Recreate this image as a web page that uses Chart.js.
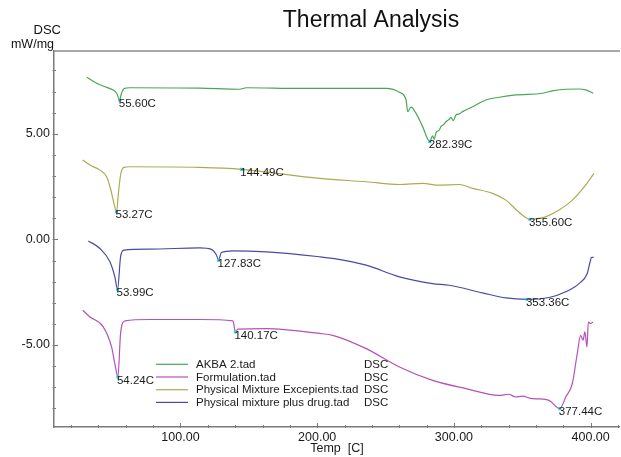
<!DOCTYPE html>
<html><head><meta charset="utf-8">
<script src="https://cdn.jsdelivr.net/npm/chart.js@4.4.1/dist/chart.umd.min.js"></script>
<style>html,body{margin:0;padding:0;background:#fff;}#wrap{width:621px;height:457px;position:relative;}</style>
</head><body><div id="wrap"><canvas id="c" width="621" height="457"></canvas></div>
<script>
const seriesNames = ['AKBA 2.tad', 'Formulation.tad', 'Physical Mixture Excepients.tad', 'Physical mixture plus drug.tad'];
const seriesColors = ['#4aa656', '#b452b8', '#abab55', '#4a4aa2'];

const akbaTemp = [31.4, 38.7, 46.0, 50.8, 53.3, 55.6, 56.5, 59, 63, 114, 143.3, 148.2, 187, 250.6, 260.1, 265, 266.2, 268.6, 272.3, 277.1, 282.39, 284.4, 285.6, 286.9, 289.3, 290.5, 292.2, 294.2, 296.6, 297.8, 299.5, 301.5, 303.9, 306.3, 313.6, 323.4, 333.1, 345.3, 364.7, 372.0, 381.8, 391.5, 396.3, 401.9];
const akbaDsc  = [7.68, 7.39, 7.2, 7.07, 6.92, 6.6, 6.84, 7.15, 7.18, 7.16, 7.11, 7.18, 7.15, 7.15, 6.97, 6.6, 6.05, 6.26, 5.97, 5.34, 4.63, 4.9, 4.74, 5.05, 5.18, 5.34, 5.42, 5.57, 5.69, 5.78, 5.62, 5.89, 5.94, 6.05, 6.28, 6.6, 6.73, 6.84, 6.92, 7.03, 7.11, 7.12, 7.08, 6.92];

const formTemp = [28.5, 33.8, 43.5, 49.6, 52.0, 54.24, 56.2, 59.3, 77.6, 114.1, 138.4, 140.17, 142.0, 162.8, 201.7, 211.4, 235.8, 260.1, 284.4, 308.8, 333.1, 340, 345.3, 350, 357.4, 362, 369.6, 377.44, 381.8, 386.6, 390.2, 392.7, 394.4, 395.8, 397.3, 398.3, 400.0, 401.7];
const formDsc  = [-3.35, -3.67, -4.14, -5.09, -5.88, -6.51, -4.45, -3.86, -3.79, -3.79, -3.86, -4.38, -4.25, -4.22, -4.45, -4.54, -5.17, -6.04, -6.67, -7.06, -7.38, -7.33, -7.46, -7.42, -7.54, -7.55, -7.62, -8.01, -7.46, -6.82, -5.4, -4.54, -4.77, -4.38, -5.09, -3.91, -3.98, -3.91];

const excTemp = [28.5, 33.8, 41.1, 46.0, 49.1, 50.8, 53.27, 54.6, 56.2, 58.6, 63, 114.1, 144.49, 201.7, 235.8, 260.1, 277.1, 289.3, 303.9, 313.6, 328.2, 338.0, 345.3, 352.5, 355.6, 360, 367.1, 376.9, 386.6, 396.3, 402.4];
const excDsc  = [3.76, 3.52, 3.28, 2.97, 2.34, 1.86, 1.31, 2.18, 3.05, 3.41, 3.44, 3.41, 3.32, 2.89, 2.73, 2.6, 2.65, 2.57, 2.6, 2.42, 2.18, 1.86, 1.42, 1.04, 0.95, 0.97, 1.07, 1.39, 1.86, 2.57, 3.13];

const drugTemp = [32.6, 41.1, 48.4, 52.0, 53.99, 56.2, 58.6, 77.6, 114.1, 122.6, 126.3, 127.83, 129.9, 138.4, 162.8, 201.7, 211.4, 235.8, 260.1, 284.4, 296.6, 320.9, 338.0, 353.36, 369.6, 381.8, 391.5, 397.5, 399.3, 400.7, 402.2];
const drugDsc  = [-0.07, -0.43, -1.06, -1.77, -2.36, -0.82, -0.51, -0.46, -0.4, -0.47, -0.74, -0.98, -0.62, -0.54, -0.59, -0.82, -0.9, -1.22, -1.77, -2.09, -2.17, -2.53, -2.77, -2.84, -2.75, -2.48, -2.09, -1.61, -1.14, -0.85, -0.85];

const peakSeries = [0, 0, 2, 2, 2, 3, 3, 3, 1, 1, 1];
const peakTemps  = [55.6, 282.39, 53.27, 144.49, 355.6, 53.99, 127.83, 353.36, 54.24, 140.17, 377.44];
const peakLabels = ['55.60C', '282.39C', '53.27C', '144.49C', '355.60C', '53.99C', '127.83C', '353.36C', '54.24C', '140.17C', '377.44C'];

const xTickLabels = [100, 200, 300, 400];
const yTickLabels = [-5, 0, 5];

const FONT = '"Liberation Sans", Arial, sans-serif';

function pts(t, v) { return t.map((x, i) => ({ x: x, y: v[i] })); }
const allTemps = [akbaTemp, formTemp, excTemp, drugTemp];
const allVals = [akbaDsc, formDsc, excDsc, drugDsc];

const datasets = seriesNames.map((n, i) => ({
  label: n,
  data: pts(allTemps[i], allVals[i]),
  borderColor: seriesColors[i],
  borderWidth: 1.2,
  pointRadius: 0,
  cubicInterpolationMode: 'monotone',
  fill: false
}));

const decorPlugin = {
  id: 'decor',
  afterDatasetsDraw(chart) {
    const ctx = chart.ctx, a = chart.chartArea;
    const xs = chart.scales.x, ys = chart.scales.y;
    ctx.save();
    // top border
    ctx.strokeStyle = '#8a8a8a'; ctx.lineWidth = 1.5;
    ctx.beginPath(); ctx.moveTo(a.left, a.top); ctx.lineTo(a.right, a.top); ctx.stroke();
    // inward tick marks
    ctx.strokeStyle = '#7a7a7a'; ctx.lineWidth = 1;
    xs.ticks.forEach(t => {
      const px = Math.round(xs.getPixelForValue(t.value)) + 0.5;
      const len = xTickLabels.includes(t.value) ? 4 : 2;
      ctx.beginPath(); ctx.moveTo(px, a.bottom + 1); ctx.lineTo(px, a.bottom - len); ctx.stroke();
    });
    ys.ticks.forEach(t => {
      const py = Math.round(ys.getPixelForValue(t.value)) + 0.5;
      const len = yTickLabels.includes(t.value) ? 4 : 2;
      ctx.beginPath(); ctx.moveTo(a.left - 1.5, py); ctx.lineTo(a.left + len, py); ctx.stroke();
    });
    // peak markers + labels
    ctx.font = '11.5px ' + FONT;
    ctx.textAlign = 'left'; ctx.textBaseline = 'middle';
    peakTemps.forEach((t, k) => {
      const di = peakSeries[k];
      const idx = allTemps[di].indexOf(t);
      const el = chart.getDatasetMeta(di).data[idx];
      if (!el) return;
      ctx.fillStyle = '#3cc8dc';
      ctx.fillRect(el.x - 1.5, el.y - 1.5, 3, 3);
      ctx.fillStyle = '#1a1a1a';
      ctx.fillText(peakLabels[k], el.x - 1, el.y + 3.5);
    });
    // legend
    const lx = a.left + 102, ty0 = 364.3, dy = 12.7;
    seriesNames.forEach((n, i) => {
      const y = ty0 + dy * i;
      ctx.strokeStyle = seriesColors[i]; ctx.lineWidth = 1.2;
      ctx.beginPath(); ctx.moveTo(lx, y); ctx.lineTo(lx + 32, y); ctx.stroke();
      ctx.fillStyle = '#1a1a1a';
      ctx.fillText(n, lx + 40, y + 0.5);
      ctx.fillText('DSC', 364, y + 0.5);
    });
    ctx.restore();
  },
  afterDraw(chart) {
    const ctx = chart.ctx;
    ctx.save();
    ctx.fillStyle = '#111';
    ctx.textBaseline = 'middle';
    ctx.textAlign = 'center';
    ctx.font = '23px ' + FONT;
    ctx.fillText('Thermal Analysis', 371, 21);
    ctx.textAlign = 'right';
    ctx.font = '13px ' + FONT;
    ctx.fillText('DSC', 61, 30);
    ctx.font = '12.5px ' + FONT;
    ctx.fillText('mW/mg', 54, 45);
    ctx.restore();
  }
};

new Chart(document.getElementById('c'), {
  type: 'line',
  data: { datasets: datasets },
  plugins: [decorPlugin],
  options: {
    responsive: false,
    animation: false,
    devicePixelRatio: 1,
    layout: { padding: { top: 51, left: 0, right: 0, bottom: 0 } },
    plugins: { legend: { display: false }, tooltip: { enabled: false } },
    scales: {
      x: {
        type: 'linear', min: 7.5, max: 421.4,
        afterFit(s) { s.height = 30; },
        border: { display: true, color: '#7a7a7a', width: 1.5 },
        grid: { drawOnChartArea: false, drawTicks: false },
        ticks: {
          stepSize: 20, includeBounds: false, autoSkip: false, maxRotation: 0, padding: 3,
          color: '#1a1a1a', font: { family: FONT, size: 12.5 },
          callback: v => xTickLabels.includes(v) ? v.toFixed(2) : ''
        },
        title: { display: true, text: 'Temp  [C]', color: '#1a1a1a', font: { family: FONT, size: 12.5 }, padding: { top: 0, bottom: 1 } }
      },
      y: {
        type: 'linear', min: -8.88, max: 8.92,
        afterFit(s) { s.width = 54; },
        border: { display: true, color: '#7a7a7a', width: 1.5 },
        grid: { drawOnChartArea: false, drawTicks: false },
        ticks: {
          stepSize: 1, includeBounds: false, autoSkip: false, padding: 4,
          color: '#1a1a1a', font: { family: FONT, size: 12.5 },
          callback: v => yTickLabels.includes(v) ? v.toFixed(2) : ''
        }
      }
    }
  }
});
</script></body></html>
